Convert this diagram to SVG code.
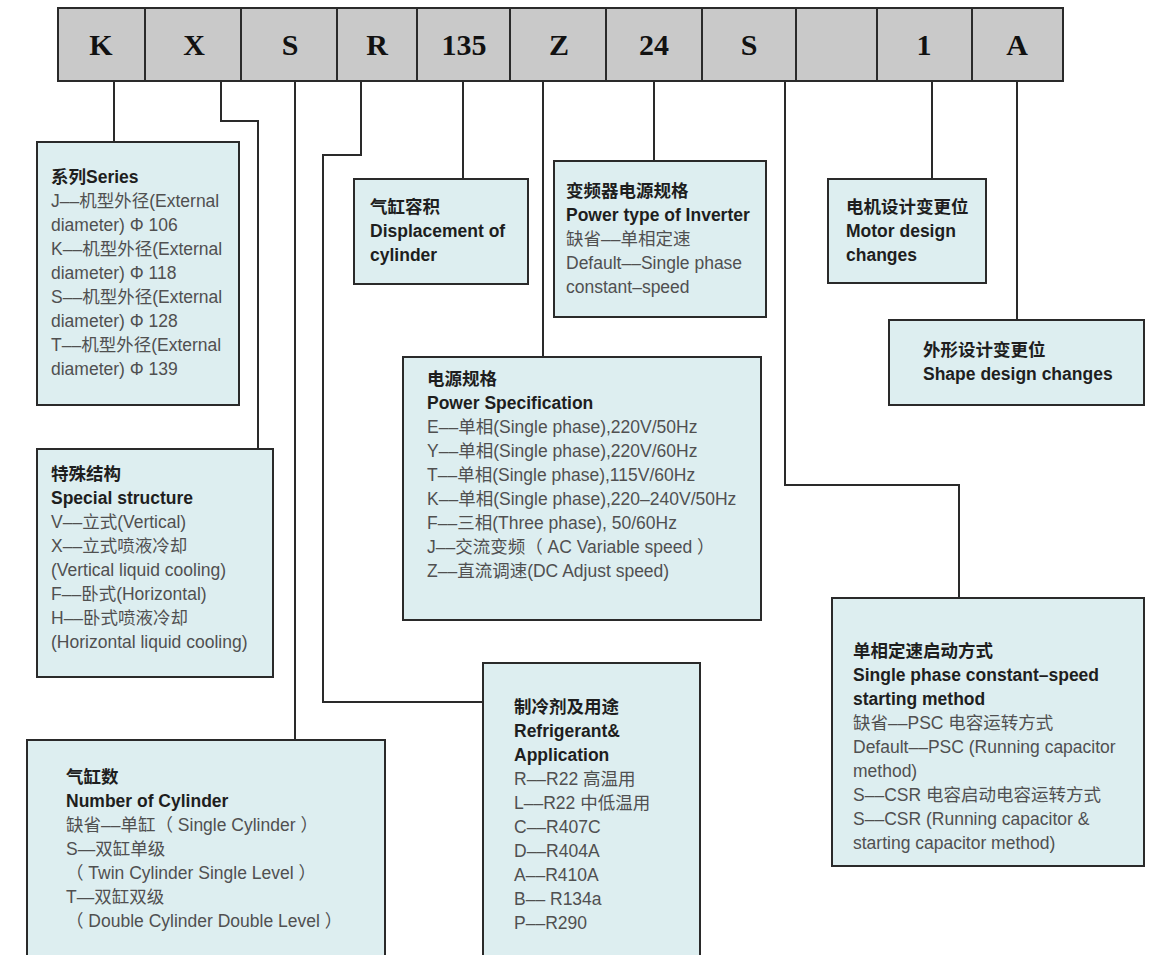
<svg xmlns="http://www.w3.org/2000/svg" width="1151" height="955" viewBox="0 0 1151 955">
<style>
.cell{fill:#c9c9c9;stroke:#2a2a2a;stroke-width:2}
.code{font-family:"Liberation Serif","Noto Sans CJK SC",serif;font-weight:bold;font-size:30px;fill:#111;text-anchor:middle}
.box{fill:#ddeef0;stroke:#2a2a2a;stroke-width:2}
.t{font-family:"Liberation Sans","Noto Sans CJK SC",sans-serif;font-size:17.5px}
.b{font-weight:bold;fill:#1e1e1e}
.r{fill:#505050}
.conn{fill:none;stroke:#2a2a2a;stroke-width:2}
</style>
<rect width="1151" height="955" fill="#ffffff"/>
<g id="code-bar">
<rect class="cell" x="58" y="8" width="87" height="73"/>
<rect class="cell" x="145" y="8" width="96" height="73"/>
<rect class="cell" x="241" y="8" width="96" height="73"/>
<rect class="cell" x="337" y="8" width="80" height="73"/>
<rect class="cell" x="417" y="8" width="93" height="73"/>
<rect class="cell" x="510" y="8" width="96" height="73"/>
<rect class="cell" x="606" y="8" width="96" height="73"/>
<rect class="cell" x="702" y="8" width="94" height="73"/>
<rect class="cell" x="796" y="8" width="81" height="73"/>
<rect class="cell" x="877" y="8" width="95" height="73"/>
<rect class="cell" x="972" y="8" width="91" height="73"/>
<text class="code" x="101" y="55">K</text>
<text class="code" x="194" y="55">X</text>
<text class="code" x="290" y="55">S</text>
<text class="code" x="377" y="55">R</text>
<text class="code" x="464" y="55">135</text>
<text class="code" x="559" y="55">Z</text>
<text class="code" x="654" y="55">24</text>
<text class="code" x="749" y="55">S</text>
<text class="code" x="924" y="55">1</text>
<text class="code" x="1017" y="55">A</text>
</g>
<g id="connectors">
<path class="conn" d="M114 81 V142"/>
<path class="conn" d="M221 81 V121 H258 V449"/>
<path class="conn" d="M295 81 V740"/>
<path class="conn" d="M361 81 V155 H323 V702 H483"/>
<path class="conn" d="M463 81 V179"/>
<path class="conn" d="M543 81 V357"/>
<path class="conn" d="M654 81 V161"/>
<path class="conn" d="M785 81 V485 H959 V598"/>
<path class="conn" d="M932 81 V179"/>
<path class="conn" d="M1017 81 V320"/>
</g>
<g id="series">
<rect class="box" x="37" y="142" width="202" height="263"/>
<text class="t b" x="51" y="183">系列Series</text>
<text class="t r" x="51" y="207">J––机型外径(External</text>
<text class="t r" x="51" y="231">diameter) Φ 106</text>
<text class="t r" x="51" y="255">K––机型外径(External</text>
<text class="t r" x="51" y="279">diameter) Φ 118</text>
<text class="t r" x="51" y="303">S––机型外径(External</text>
<text class="t r" x="51" y="327">diameter) Φ 128</text>
<text class="t r" x="51" y="351">T––机型外径(External</text>
<text class="t r" x="51" y="375">diameter) Φ 139</text>
</g>
<g id="special-structure">
<rect class="box" x="37" y="449" width="236" height="228"/>
<text class="t b" x="51" y="480">特殊结构</text>
<text class="t b" x="51" y="504">Special structure</text>
<text class="t r" x="51" y="528">V––立式(Vertical)</text>
<text class="t r" x="51" y="552">X––立式喷液冷却</text>
<text class="t r" x="51" y="576">(Vertical liquid cooling)</text>
<text class="t r" x="51" y="600">F––卧式(Horizontal)</text>
<text class="t r" x="51" y="624">H––卧式喷液冷却</text>
<text class="t r" x="51" y="648">(Horizontal liquid cooling)</text>
</g>
<g id="cylinders">
<rect class="box" x="27" y="740" width="358" height="230"/>
<text class="t b" x="66" y="783">气缸数</text>
<text class="t b" x="66" y="807">Number of Cylinder</text>
<text class="t r" x="66" y="831">缺省––单缸（ Single Cylinder ）</text>
<text class="t r" x="66" y="855">S—双缸单级</text>
<text class="t r" x="66" y="879">（ Twin Cylinder Single Level ）</text>
<text class="t r" x="66" y="903">T—双缸双级</text>
<text class="t r" x="66" y="927">（ Double Cylinder Double Level ）</text>
</g>
<g id="displacement">
<rect class="box" x="354" y="179" width="174" height="105"/>
<text class="t b" x="370" y="213">气缸容积</text>
<text class="t b" x="370" y="237">Displacement of</text>
<text class="t b" x="370" y="261">cylinder</text>
</g>
<g id="inverter-power">
<rect class="box" x="554" y="161" width="212" height="156"/>
<text class="t b" x="566" y="197">变频器电源规格</text>
<text class="t b" x="566" y="221">Power type of Inverter</text>
<text class="t r" x="566" y="245">缺省––单相定速</text>
<text class="t r" x="566" y="269">Default––Single phase</text>
<text class="t r" x="566" y="293">constant–speed</text>
</g>
<g id="power-spec">
<rect class="box" x="403" y="357" width="358" height="263"/>
<text class="t b" x="427" y="385">电源规格</text>
<text class="t b" x="427" y="409">Power Specification</text>
<text class="t r" x="427" y="433">E––单相(Single phase),220V/50Hz</text>
<text class="t r" x="427" y="457">Y––单相(Single phase),220V/60Hz</text>
<text class="t r" x="427" y="481">T––单相(Single phase),115V/60Hz</text>
<text class="t r" x="427" y="505">K––单相(Single phase),220–240V/50Hz</text>
<text class="t r" x="427" y="529">F––三相(Three phase), 50/60Hz</text>
<text class="t r" x="427" y="553">J––交流变频（ AC Variable speed ）</text>
<text class="t r" x="427" y="577">Z––直流调速(DC Adjust speed)</text>
</g>
<g id="refrigerant">
<rect class="box" x="483" y="663" width="217" height="310"/>
<text class="t b" x="514" y="713">制冷剂及用途</text>
<text class="t b" x="514" y="737">Refrigerant&amp;</text>
<text class="t b" x="514" y="761">Application</text>
<text class="t r" x="514" y="785">R––R22 高温用</text>
<text class="t r" x="514" y="809">L––R22 中低温用</text>
<text class="t r" x="514" y="833">C––R407C</text>
<text class="t r" x="514" y="857">D––R404A</text>
<text class="t r" x="514" y="881">A––R410A</text>
<text class="t r" x="514" y="905">B–– R134a</text>
<text class="t r" x="514" y="929">P––R290</text>
</g>
<g id="motor">
<rect class="box" x="828" y="179" width="158" height="104"/>
<text class="t b" x="846" y="213">电机设计变更位</text>
<text class="t b" x="846" y="237">Motor design</text>
<text class="t b" x="846" y="261">changes</text>
</g>
<g id="shape">
<rect class="box" x="889" y="320" width="255" height="85"/>
<text class="t b" x="923" y="356">外形设计变更位</text>
<text class="t b" x="923" y="380">Shape design changes</text>
</g>
<g id="starting-method">
<rect class="box" x="832" y="598" width="312" height="268"/>
<text class="t b" x="853" y="657">单相定速启动方式</text>
<text class="t b" x="853" y="681">Single phase constant–speed</text>
<text class="t b" x="853" y="705">starting method</text>
<text class="t r" x="853" y="729">缺省––PSC 电容运转方式</text>
<text class="t r" x="853" y="753">Default––PSC (Running capacitor</text>
<text class="t r" x="853" y="777">method)</text>
<text class="t r" x="853" y="801">S––CSR 电容启动电容运转方式</text>
<text class="t r" x="853" y="825">S––CSR (Running capacitor &amp;</text>
<text class="t r" x="853" y="849">starting capacitor method)</text>
</g>
</svg>
